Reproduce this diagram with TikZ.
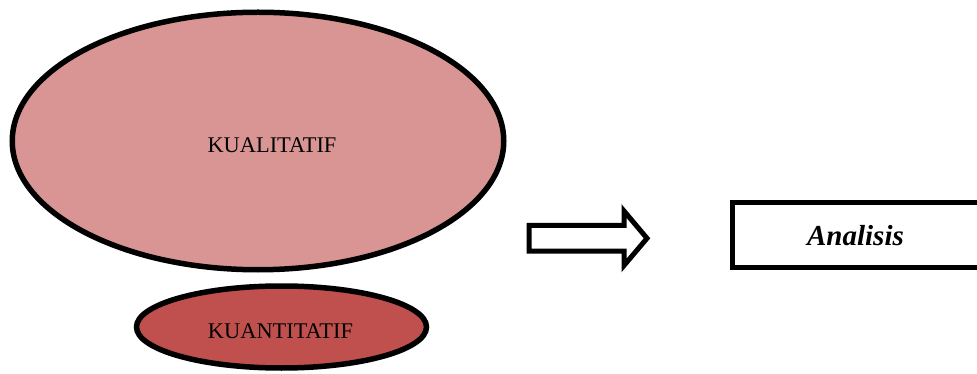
\documentclass[tikz,border=0pt]{standalone}
\usepackage{fontspec}
\setmainfont{Liberation Serif}
\usetikzlibrary{shapes.geometric}
\definecolor{lightrose}{HTML}{D99594}
\definecolor{darkrose}{HTML}{C0504D}
\tikzset{
  blob/.style={ellipse, draw=black, line width=5.5pt, inner sep=0pt},
  ovaltext/.style={anchor=base, inner sep=0pt, font=\fontsize{22.4}{26}\selectfont},
  outline/.style={draw=black, line width=5pt, line join=miter}
}
\begin{document}
\begin{tikzpicture}[x=1pt, y=-1pt]
  \useasboundingbox (0,0) rectangle (977,374);
  \clip (0,0) rectangle (977,374);

  % large and small ellipses
  \node[blob, fill=lightrose, minimum width=491.5pt, minimum height=257.5pt] (kual) at (258,141) {};
  \node[blob, fill=darkrose, minimum width=290pt, minimum height=82pt] (kuan) at (281.5,327) {};
  \node[ovaltext] (kualtxt) at (272,153) {KUALITATIF};
  \node[ovaltext] (kuantxt) at (280.5,338) {KUANTITATIF};

  % hollow block arrow
  \draw[outline, fill=white] (529,225.3) -- (624,225.3) -- (624,211) -- (647,238.3)
    -- (624,265.5) -- (624,251) -- (529,251) -- cycle;

  % result box, running off the right edge
  \draw[outline] (990,202.5) -- (732.5,202.5) -- (732.5,267.5) -- (990,267.5);
  \node[anchor=base, inner sep=0pt, font=\fontsize{29}{34}\selectfont\bfseries\itshape] (anl) at (855.5,245) {Analisis};
\end{tikzpicture}
\end{document}
